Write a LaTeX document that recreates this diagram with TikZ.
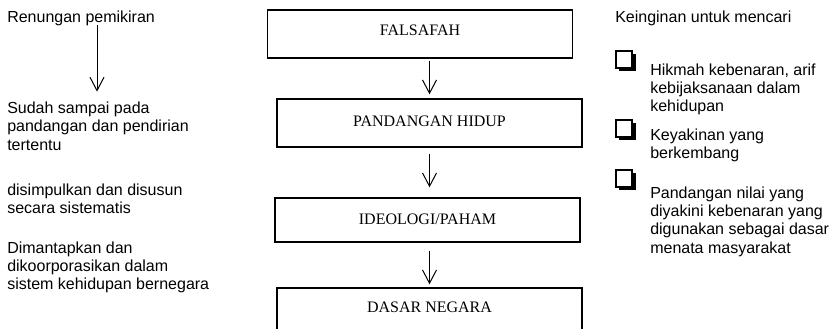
\documentclass[tikz,border=0pt]{standalone}
\usepackage{fontspec}
\setmainfont{Liberation Serif}
\setsansfont{Liberation Sans}
\usetikzlibrary{arrows.meta,calc}

\begin{document}
\begin{tikzpicture}[x=0.75pt,y=-0.75pt,
    level/.style={draw,line width=1pt,minimum width=228.75pt,minimum height=36pt,inner sep=0pt,
        font=\rmfamily\fontsize{12pt}{13.8pt}\selectfont},
    note/.style={anchor=base west,align=left,inner sep=0pt,
        font=\sffamily\fontsize{12pt}{13.8pt}\selectfont},
    arr/.style={line width=0.75pt,-{Straight Barb[length=10pt,width=10.5pt]}},
    tick/.style={draw,line width=1pt,fill=white}]
    % Frame
    \clip (0,0) rectangle (837,328);

    % Levels
    \node[level,text depth=6pt] (falsafah) at (420,34) {FALSAFAH};
    \node[level,text depth=3pt] (pandangan) at (429.5,123) {PANDANGAN HIDUP};
    \node[level,minimum height=33pt,text depth=1pt] (ideologi) at (427.5,220) {IDEOLOGI/PAHAM};
    \node[level,text depth=7.5pt] (dasar) at (429.5,312) {DASAR NEGARA};

    % Arrows between levels
    \draw[arr,shorten <=1.5pt,shorten >=3pt] (falsafah.south -| pandangan.north) -- (pandangan.north);
    \draw[arr,shorten <=4.5pt,shorten >=7.5pt] (pandangan.south) -- (pandangan.south |- ideologi.north);
    \draw[arr,shorten <=6pt,shorten >=2.25pt] (ideologi.south -| pandangan.south) -- (dasar.north);

    % Left notes (placed at the baseline of their last line)
    \node[note] (renungan) at (7,23) {Renungan pemikiran};
    \node[note] (sudah) at (7,150.3) {Sudah sampai pada\\pandangan dan pendirian\\tertentu};
    \node[note] (simpul) at (7,213.4) {disimpulkan dan disusun\\secara sistematis};
    \node[note] (mantap) at (7,289.8) {Dimantapkan dan\\dikoorporasikan dalam\\sistem kehidupan bernegara};
    \draw[arr,shorten >=7.5pt] ($(renungan.base west)+(90,2)$) -- ($(sudah.north west)+(90,0)$);

    % Right notes
    \node[note] (keinginan) at (615,23) {Keinginan untuk mencari};
    \node[note] (hikmah) at (650,111.8) {Hikmah kebenaran, arif\\kebijaksanaan dalam\\kehidupan};
    \node[note] (keyakinan) at (650,158.4) {Keyakinan yang\\berkembang};
    \node[note] (nilai) at (650,253.2) {Pandangan nilai yang\\diyakini kebenaran yang\\digunakan sebagai dasar\\menata masyarakat};

    % Check boxes
    \foreach \top in {51,120,170} {
        \fill (619,\top+3) rectangle (636,\top+20);
        \draw[tick] (616,\top) rectangle (632,\top+17);
    }
\end{tikzpicture}
\end{document}
